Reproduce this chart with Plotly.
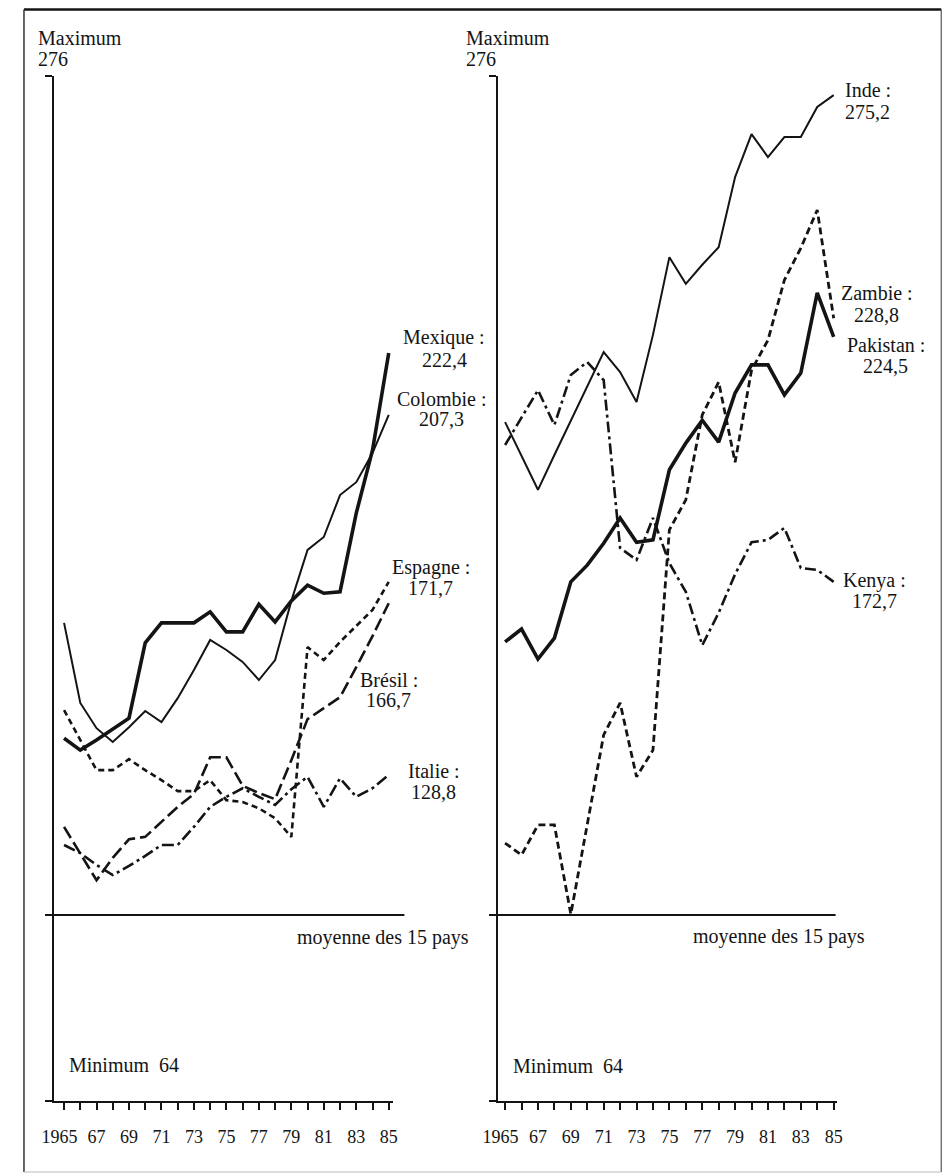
import plotly.graph_objects as go

# ---------------- data ----------------
years = list(range(1965, 1986))

# index values (moyenne des 15 pays = 100)
mexique = [137.1, 134.6, 136.7, 139.0, 141.3, 157.1, 161.3, 161.3, 161.3, 163.6, 159.4,
           159.4, 165.2, 161.5, 165.9, 169.2, 167.5, 167.8, 184.3, 197.5, 217.9]
colombie = [161.3, 144.5, 139.2, 136.3, 139.4, 142.8, 140.5, 145.5, 151.4, 157.7, 155.6,
            153.1, 149.3, 153.5, 165.9, 176.6, 179.3, 188.1, 190.8, 196.9, 204.9]
espagne = [143.0, 136.7, 130.4, 130.4, 132.7, 130.4, 128.3, 126.0, 126.0, 128.3, 124.1,
           123.7, 122.4, 120.3, 116.4, 156.2, 153.5, 157.3, 160.6, 164.0, 169.9]
bresil = [118.5, 113.0, 107.3, 112.0, 115.9, 116.4, 119.5, 122.7, 125.4, 133.1, 133.1,
          127.1, 125.6, 124.3, 132.5, 141.1, 143.4, 145.7, 152.0, 158.5, 165.4]
italie = [114.7, 113.0, 110.5, 108.4, 110.3, 112.4, 114.7, 114.7, 118.5, 122.7, 124.8,
          126.6, 124.8, 123.1, 126.4, 129.0, 122.7, 128.7, 124.8, 126.6, 129.4]

inde = [203.4, 196.3, 189.2, 196.5, 203.6, 211.0, 218.1, 213.9, 207.6, 221.7, 238.0,
        232.4, 236.4, 240.1, 254.8, 263.8, 259.0, 263.2, 263.2, 269.5, 272.0]
zambie = [115.1, 112.6, 118.9, 118.9, 100.2, 119.1, 137.8, 144.5, 129.0, 134.6, 180.8,
          187.1, 204.9, 211.8, 195.0, 214.3, 220.6, 233.2, 239.9, 247.9, 225.2]
pakistan = [157.3, 160.0, 153.7, 158.1, 169.9, 173.4, 178.0, 183.3, 178.2, 178.7, 193.4,
            199.0, 203.8, 199.2, 209.5, 215.4, 215.4, 209.1, 213.7, 230.5, 221.3]
kenya = [198.6, 204.3, 210.1, 202.8, 213.3, 216.0, 212.2, 177.0, 174.5, 183.3, 173.8,
         167.8, 156.6, 163.4, 171.5, 178.2, 178.7, 181.2, 172.8, 172.4, 169.9]

MEAN = 100
Y_MAX = 276
Y_MIN = 61.0
max_label = ["Maximum", "276"]
min_label = "Minimum\u00a0\u00a064"
mean_label = "moyenne des 15 pays"

left_names = ["Mexique :", "Colombie :", "Espagne :", "Brésil :", "Italie :"]
left_final = ["222,4", "207,3", "171,7", "166,7", "128,8"]
right_names = ["Inde :", "Zambie :", "Pakistan :", "Kenya :"]
right_final = ["275,2", "228,8", "224,5", "172,7"]

def tick_text(pad):
    out = []
    for y in years:
        if y == 1965:
            out.append("1965" + "\u00a0" * pad)
        elif y % 2 == 1:
            out.append(f"{y % 100:02d}")
        else:
            out.append("")
    return out

# ---------------- figure ----------------
W, H = 950, 1175
OFF = 8          # default page margin of the html body
INK = "#141414"
FONT = "Liberation Serif"

def px(x):
    return (x - OFF) / W

def py(y):
    return 1 - (y - OFF) / H

fig = go.Figure()

left_series = [
    (mexique, 3.6, "solid"),
    (colombie, 2.0, "solid"),
    (espagne, 2.6, "6px,4px"),
    (bresil, 2.6, "13px,5px"),
    (italie, 2.6, "12px,4px,3px,4px"),
]
right_series = [
    (inde, 2.0, "solid"),
    (zambie, 2.8, "7px,4px"),
    (pakistan, 3.6, "solid"),
    (kenya, 2.6, "11px,4px,3px,4px"),
]

for vals, w, d in left_series:
    fig.add_trace(go.Scatter(x=years, y=vals, mode="lines", xaxis="x", yaxis="y",
                             line=dict(color=INK, width=w, dash=d),
                             showlegend=False, hoverinfo="skip"))
for vals, w, d in right_series:
    fig.add_trace(go.Scatter(x=years, y=vals, mode="lines", xaxis="x2", yaxis="y2",
                             line=dict(color=INK, width=w, dash=d),
                             showlegend=False, hoverinfo="skip"))

y_dom = [py(1101), py(76)]

def xaxis(dom, rng, pad, anchor):
    return dict(domain=dom, range=rng, anchor=anchor, showline=True, linecolor=INK,
                linewidth=2, ticks="outside", ticklen=7, tickwidth=2, tickcolor=INK,
                tickvals=years, ticktext=tick_text(pad), tickangle=0,
                tickfont=dict(family=FONT, size=18, color=INK),
                ticklabelstandoff=11, showgrid=False, zeroline=False, fixedrange=True)

def yaxis(anchor):
    return dict(domain=y_dom, range=[Y_MIN, Y_MAX], anchor=anchor, showline=True,
                linecolor=INK, linewidth=2, ticks="outside", ticklen=7, tickwidth=2,
                tickcolor=INK, tickvals=[Y_MIN, MEAN, Y_MAX], showticklabels=False,
                showgrid=False, zeroline=False, fixedrange=True)

fig.update_layout(
    width=W, height=H, autosize=False,
    margin=dict(l=0, r=0, t=0, b=0),
    paper_bgcolor="white", plot_bgcolor="rgba(0,0,0,0)",
    xaxis=xaxis([px(40), px(386)], [1964.398, 1985.241], 2, "y"),
    yaxis=yaxis("x"),
    xaxis2=xaxis([px(494), px(840)], [1964.583, 1985.179], 2, "y2"),
    yaxis2=yaxis("x2"),
)

FL, FT, FR, FB = OFF + 1, OFF + 1.5, 947, 1172
shapes = [
    # mean lines ("moyenne des 15 pays")
    dict(type="line", xref="paper", yref="y", x0=px(33), x1=px(398), y0=MEAN, y1=MEAN,
         line=dict(color=INK, width=2)),
    dict(type="line", xref="paper", yref="y2", x0=px(488), x1=px(839), y0=MEAN, y1=MEAN,
         line=dict(color=INK, width=2)),
    # frame
    dict(type="line", xref="paper", yref="paper", x0=px(FL), x1=px(FR), y0=py(FT), y1=py(FT),
         line=dict(color=INK, width=2.5)),
    dict(type="line", xref="paper", yref="paper", x0=px(FL), x1=px(FL), y0=py(FT), y1=py(FB),
         line=dict(color="#333", width=1.5)),
    dict(type="line", xref="paper", yref="paper", x0=px(FR), x1=px(FR), y0=py(FT), y1=py(FB),
         line=dict(color="#555", width=1.2)),
    dict(type="line", xref="paper", yref="paper", x0=px(FL), x1=px(FR), y0=py(FB), y1=py(FB),
         line=dict(color="#bbb", width=1.2)),
]
fig.update_layout(shapes=shapes)

anns = []

def ann(text, x, y, xanchor="center", size=20):
    anns.append(dict(text=text, x=px(x), y=py(y), xref="paper", yref="paper",
                     xanchor=xanchor, yanchor="middle", showarrow=False,
                     font=dict(family=FONT, size=size, color=INK)))

for x0 in (21, 459):
    ann(max_label[0], x0, 38, "left")
    ann(max_label[1], x0, 59, "left")
ann(min_label, 53, 1065, "left")
ann(min_label, 507, 1066, "left")
ann(mean_label, 466, 937, "right")
ann(mean_label, 871, 936, "right")

left_pos = [(439, 338, 360), (436, 399, 419), (425, 567, 588), (382, 680, 700), (428, 771, 792)]
for name, val, (cx, y1, y2) in zip(left_names, left_final, left_pos):
    ann(name, cx, y1)
    ann(val, cx, y2)
right_pos = [(872, 90, 112), (881, 293, 315), (890, 345, 366), (879, 580, 601)]
for name, val, (cx, y1, y2) in zip(right_names, right_final, right_pos):
    ann(name, cx, y1)
    ann(val, cx, y2)

fig.update_layout(annotations=anns)

fig.write_html("out.html", config={"displayModeBar": False})
